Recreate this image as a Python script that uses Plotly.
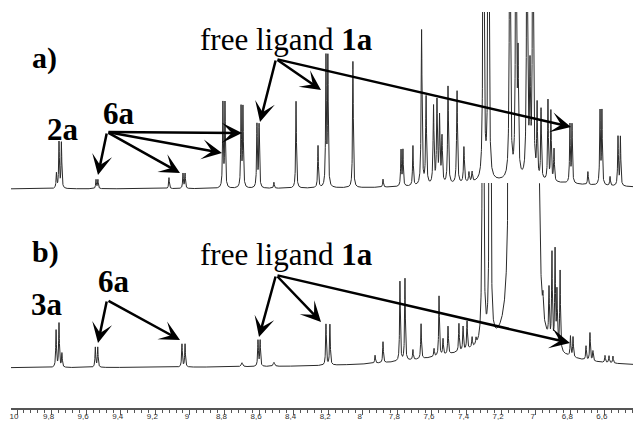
import numpy as np
import plotly.graph_objects as go

# ---------------- spectrum a) : line list ----------------
# chemical shift (ppm), peak height (arb.), line width FWHM (ppm)
a_shift = [9.772, 9.757, 9.743, 9.543, 9.532, 9.121, 9.040, 9.028,
           8.809, 8.797, 8.704, 8.693, 8.612, 8.600, 8.514, 8.386,
           8.259, 8.213, 8.202, 8.057, 7.883, 7.779, 7.768, 7.710,
           7.660, 7.634, 7.591, 7.571, 7.556, 7.542, 7.507, 7.455,
           7.415, 7.386, 7.368, 7.302, 7.273, 7.149, 7.114, 7.102,
           7.050, 7.033, 7.016, 6.992, 6.969, 6.929, 6.912, 6.894,
           6.802, 6.790, 6.698, 6.628, 6.617, 6.570, 6.524, 6.510,
           7.100]
a_height = [15, 46, 46, 9, 9, 11, 15, 15,
            84, 84, 80, 80, 63, 63, 6, 87,
            42, 128, 128, 127, 8, 36, 36, 40,
            155, 88, 78, 82, 66, 46, 98, 93,
            36, 10, 10, 500, 500, 450, 400, 110,
            400, 100, 400, 72, 70, 80, 70, 32,
            58, 58, 13, 73, 73, 9, 49, 49,
            8]
a_fwhm = [0.005] * 24 + [0.006] * 11 + [0.006] * 8 + [0.005] * 13 + [0.8]

# ---------------- spectrum b) : line list ----------------
b_shift = [9.774, 9.757, 9.740, 9.547, 9.533, 9.046, 9.028, 8.699,
           8.606, 8.594, 8.514, 8.213, 8.190, 7.929, 7.883, 7.785,
           7.756, 7.710, 7.663, 7.588, 7.559, 7.536, 7.507, 7.444,
           7.420, 7.397, 7.368, 7.345, 7.305, 7.264,
           7.148, 7.128, 7.108, 7.088, 7.068, 7.048, 7.028, 7.008, 6.990,
           6.958, 6.923, 6.906, 6.888, 6.877, 6.859, 6.799, 6.784,
           6.709, 6.686, 6.669, 6.599, 6.576, 6.553,
           7.080, 7.300]
b_height = [37, 44, 14, 20, 20, 23, 23, 4,
            26, 26, 4, 41, 41, 8, 21, 80,
            82, 10, 35, 8, 60, 16, 28, 28,
            24, 28, 10, 6, 1000, 1000,
            2000, 2000, 2000, 2000, 2000, 2000, 2000, 2000, 2000,
            18, 50, 90, 95, 55, 80, 20, 20,
            14, 28, 10, 7, 7, 7,
            80, 14]
b_fwhm = ([0.005] * 7 + [0.01] + [0.005] * 2 + [0.01] + [0.005] * 17
          + [0.005] * 2 + [0.006] * 9 + [0.005] * 14 + [0.12, 0.8])

# axis ticks
tick_values = [10, 9.8, 9.6, 9.4, 9.2, 9, 8.8, 8.6, 8.4, 8.2, 8, 7.8,
               7.6, 7.4, 7.2, 7, 6.8, 6.6]
tick_labels = ["10", "9,8", "9,6", "9,4", "9,2", "9", "8,8", "8,6", "8,4",
               "8,2", "8", "7,8", "7,6", "7,4", "7,2", "7", "6,8", "6,6"]

ppm = np.linspace(10.04, 6.43, 7300)


def lorentzian_sum(shifts, heights, widths):
    x = ppm[:, None]
    x0 = np.asarray(shifts)[None, :]
    h = np.asarray(heights)[None, :]
    hw = np.asarray(widths)[None, :] / 2.0
    return (h / (1.0 + ((x - x0) / hw) ** 2)).sum(axis=1)


spec_a = lorentzian_sum(a_shift, a_height, a_fwhm)
spec_b = lorentzian_sum(b_shift, b_height, b_fwhm)

W, H = 633, 426
ML, MB = 11, 18
PH = H - MB  # plot-area height in px


def px(x):  # horizontal pixel -> paper
    return (x - ML) / (W - ML)


def py(y):  # vertical pixel (from top) -> paper
    return (PH - y) / PH


line_style = dict(color="#2a2a2a", width=1)
fig = go.Figure()
fig.add_trace(go.Scatter(x=ppm, y=spec_a, mode="lines", line=line_style,
                         xaxis="x", yaxis="y", hoverinfo="skip"))
fig.add_trace(go.Scatter(x=ppm, y=spec_b, mode="lines", line=line_style,
                         xaxis="x", yaxis="y2", hoverinfo="skip"))

serif = "Liberation Serif, Times New Roman, serif"
ann = []


def label(text, x_left, baseline, size=31):
    ann.append(dict(text=text, xref="paper", yref="paper",
                    x=px(x_left - 1), y=py(baseline - 0.34 * size),
                    xanchor="left", yanchor="middle", showarrow=False,
                    font=dict(family=serif, size=size, color="black")))


label("<b>a)</b>", 31, 68, 30)
label("<b>2a</b>", 46, 140)
label("<b>6a</b>", 102, 124)
label("free ligand <b>1a</b>", 199, 50)
label("<b>b)</b>", 31, 262, 30)
label("<b>3a</b>", 30, 315)
label("<b>6a</b>", 97, 292)
label("free ligand <b>1a</b>", 199, 265)


def arrow(yref, x_ppm, y_int, ax, ay):
    ann.append(dict(text="", xref="x", yref=yref, x=x_ppm, y=y_int,
                    ax=ax, ay=ay, axref="pixel", ayref="pixel",
                    showarrow=True, arrowhead=3, arrowsize=1.35,
                    arrowwidth=2.5, arrowcolor="black", standoff=0))


# spectrum a) pointers
arrow("y", 9.5315, 14, 9, -43)
arrow("y", 9.0572, 16, -73, -41)
arrow("y", 8.8143, 36, -115, -21)
arrow("y", 8.6986, 56, -135, -1)
arrow("y", 8.5945, 67, 16, -63)
arrow("y", 8.2417, 99, -45, -31)
arrow("y", 6.7958, 62, -295, -68)
# spectrum b) pointers
arrow("y2", 9.5315, 25, 9, -43)
arrow("y2", 9.0572, 28, -73, -40)
arrow("y2", 8.6003, 31, 17, -62)
arrow("y2", 8.2417, 46, -45, -47)
arrow("y2", 6.8016, 25, -294, -68)

x_left = 10 + (17 - ML) / 172.9
x_right = 10 - (W - 17) / 172.9

fig.update_layout(
    width=W, height=H,
    margin=dict(l=ML, r=0, t=0, b=MB, autoexpand=False),
    paper_bgcolor="white", plot_bgcolor="rgba(0,0,0,0)",
    showlegend=False,
    annotations=ann,
    xaxis=dict(range=[x_left, x_right], domain=[0, 1], anchor="y2",
               tickmode="array", tickvals=tick_values, ticktext=tick_labels,
               ticks="outside", ticklen=5, tickwidth=1, tickcolor="#555",
               showline=True, linecolor="#555", linewidth=1.5,
               showgrid=False, zeroline=False, ticklabelshift=3,
               ticklabelstandoff=-5, automargin=False,
               tickfont=dict(family="Liberation Sans, Arial", size=8,
                             color="#333"),
               minor=dict(tickmode="linear", tick0=10, dtick=0.04,
                          ticks="outside", ticklen=3, tickcolor="#555",
                          showgrid=False)),
    yaxis=dict(domain=[py(215), py(12)], range=[-26, 177], visible=False,
               anchor="x"),
    yaxis2=dict(domain=[0, py(183)], range=[-40, 185], visible=False,
                anchor="x"),
)

fig.write_html("out.html")
